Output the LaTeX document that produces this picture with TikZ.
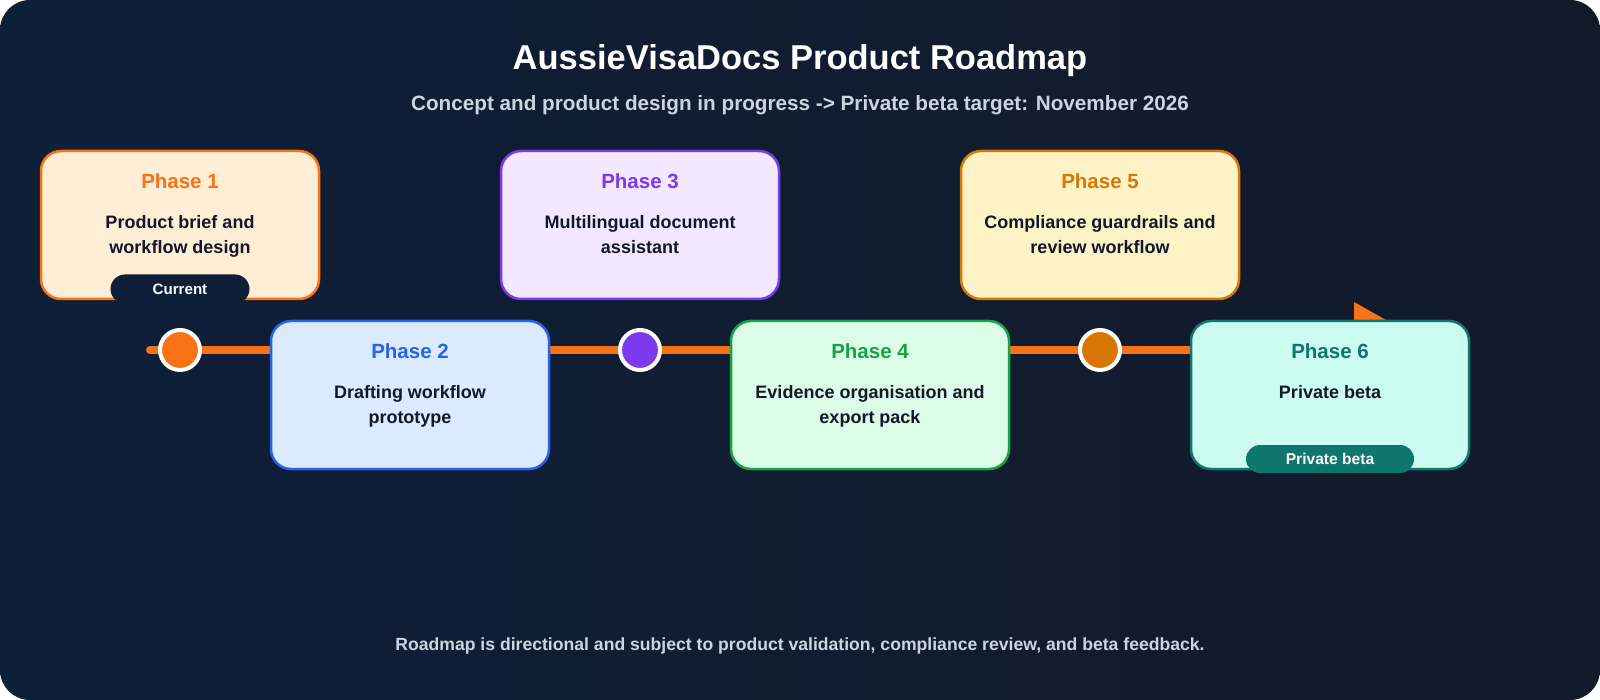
\documentclass[tikz,border=0pt]{standalone}
\usepackage{fontspec}
\setmainfont{Liberation Sans}
\usetikzlibrary{shapes.misc}
\definecolor{bgA}{HTML}{0E1F38}
\definecolor{bgB}{HTML}{121A2A}
\definecolor{subtxt}{HTML}{CBD5E1}
\definecolor{bodytxt}{HTML}{111827}
\definecolor{cA}{HTML}{F97316}\definecolor{fA}{HTML}{FFEDD5}
\definecolor{cB}{HTML}{2563EB}\definecolor{fB}{HTML}{DBEAFE}
\definecolor{cC}{HTML}{7C3AED}\definecolor{fC}{HTML}{F3E8FF}
\definecolor{cD}{HTML}{16A34A}\definecolor{fD}{HTML}{DCFCE7}
\definecolor{cE}{HTML}{D97706}\definecolor{fE}{HTML}{FEF3C7}
\definecolor{cF}{HTML}{0F766E}\definecolor{fF}{HTML}{CCFBF1}
\tikzset{
  phasebox/.style={draw, line width=2.5pt, rounded corners=20pt, minimum width=278pt, minimum height=148pt, inner sep=0pt},
  phtitle/.style={font=\bfseries\fontsize{20.5}{24}\selectfont, inner sep=0pt},
  phbody/.style={font=\bfseries\fontsize{18}{25}\selectfont, text=bodytxt, align=center, anchor=north, inner sep=0pt},
  pill/.style={rounded rectangle, inner sep=0pt, text=white},
  dot/.style={circle, draw=white, line width=4pt, minimum size=40pt, inner sep=0pt},
  timeline/.style={draw=cA, line width=8pt}
}
\begin{document}
\begin{tikzpicture}[x=1pt,y=-1pt]
\useasboundingbox (0,0) rectangle (1600,700);
\fill[white] (0,0) rectangle (1600,700);
\shade[rounded corners=30pt, left color=bgA, right color=bgB] (0,0) rectangle (1600,700);

\node[font=\bfseries\fontsize{34.5}{40}\selectfont, text=white] (title) at (800,61) {AussieVisaDocs Product Roadmap};
\node[font=\bfseries\fontsize{20.7}{24}\selectfont, text=subtxt] (sub) at (800,105) {Concept and product design in progress -> Private beta target: November 2026};
\node[font=\bfseries\fontsize{17.6}{21}\selectfont, text=subtxt] (foot) at (800,646) {Roadmap is directional and subject to product validation, compliance review, and beta feedback.};

% timeline
\coordinate (ls) at (150,350);
\coordinate (le) at (1330,350);
\draw[timeline, line cap=round] (ls) -- (le);
\fill[cA] (1354,302) -- (1386,320) -- (1354,320) -- cycle;

\node[dot, fill=cA] (d1) at (180,350) {};
\node[dot, fill=cC] (d3) at (640,350) {};
\node[dot, fill=cE] (d5) at (1100,350) {};

% boxes
\node[phasebox, draw=cA, fill=fA] (p1) at (180,225) {};
\node[phasebox, draw=cB, fill=fB] (p2) at (410,395) {};
\node[phasebox, draw=cC, fill=fC] (p3) at (640,225) {};
\node[phasebox, draw=cD, fill=fD] (p4) at (870,395) {};
\node[phasebox, draw=cE, fill=fE] (p5) at (1100,225) {};
\node[phasebox, draw=cF, fill=fF] (p6) at (1330,395) {};

\node[phtitle, text=cA] (t1) at (180,181) {Phase 1};
\node[phbody] (b1) at (180,215) {Product brief and\\workflow design};
\node[phtitle, text=cB] (t2) at (410,351) {Phase 2};
\node[phbody] (b2) at (410,385) {Drafting workflow\\prototype};
\node[phtitle, text=cC] (t3) at (640,181) {Phase 3};
\node[phbody] (b3) at (640,215) {Multilingual document\\assistant};
\node[phtitle, text=cD] (t4) at (870,351) {Phase 4};
\node[phbody] (b4) at (870,385) {Evidence organisation and\\export pack};
\node[phtitle, text=cE] (t5) at (1100,181) {Phase 5};
\node[phbody] (b5) at (1100,215) {Compliance guardrails and\\review workflow};
\node[phtitle, text=cF] (t6) at (1330,351) {Phase 6};
\node[phbody] (b6) at (1330,385) {Private beta};

\node[pill, fill=bgA, minimum width=139pt, minimum height=29pt, font=\bfseries\fontsize{15.1}{17}\selectfont] (cur) at (180,289) {Current};
\node[pill, fill=cF, minimum width=168pt, minimum height=28pt, font=\bfseries\fontsize{15.6}{17}\selectfont] (pb) at (1330,459) {Private beta};
\end{tikzpicture}
\end{document}
